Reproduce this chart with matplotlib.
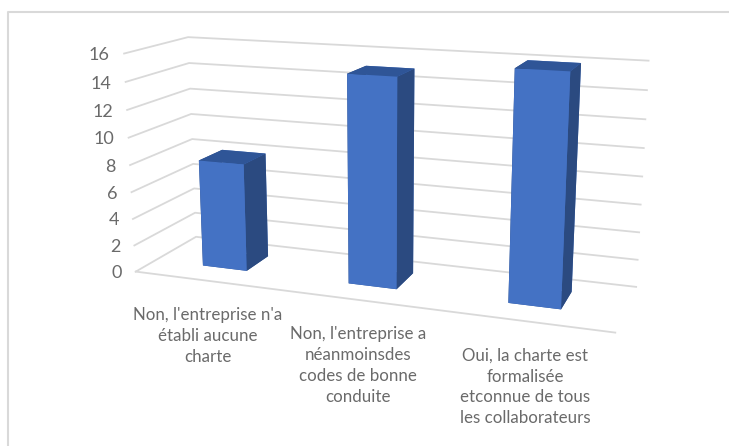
import matplotlib
matplotlib.use('Agg')
import matplotlib.pyplot as plt
from matplotlib.lines import Line2D
from mpl_toolkits.mplot3d import proj3d

#---Chart data
categories = ["Non, l'entreprise n'a\nétabli aucune\ncharte",
              "Non, l'entreprise a\nnéanmoinsdes\ncodes de bonne\nconduite",
              "Oui, la charte est\nformalisée\netconnue de tous\nles collaborateurs"]
values = [8, 15, 16]
zticks = [0, 2, 4, 6, 8, 10, 12, 14, 16]

W, H = 729, 446
grey = '#d9d9d9'
text_col = '#6a6a6a'
plt.rcParams['font.family'] = ['Lato', 'DejaVu Sans']

fig = plt.figure(figsize=(W/100, H/100), dpi=100)
ax = fig.add_axes([100.6/W, -5.2/H, 546.3/W, 546.3/H], projection='3d', computed_zorder=False)
ax.view_init(elev=14.06, azim=-70.04, roll=0.02)
ax.set_proj_type('persp', focal_length=0.401)
ax.set_box_aspect((2.174, 0.568, 1))
ax.set_xlim(0, 3)
ax.set_ylim(0, 1)
ax.set_zlim(0, 16)
ax.set_axis_off()

#---Walls
proj = ax.get_proj()
for z in zticks:
    ax.plot([0, 0, 3], [0, 1, 1], [z, z, z], color=grey, lw=1.3, clip_on=False, zorder=1)
    tx, ty, _ = proj3d.proj_transform(-0.1, 0, z, proj)
    ax.annotate(str(z), (tx, ty), xytext=(0, -2), textcoords='offset points',
                ha='right', va='center', fontsize=13, color=text_col, annotation_clip=False)
ax.plot([0, 3], [0, 0], [0, 0], color=grey, lw=1.3, clip_on=False, zorder=1)

#---Bars, faces are -z +z -y +y -x +x
faces = ['#2F5597', '#2F5597', '#4472C4', '#4472C4', '#2B4A80', '#2B4A80']
for i, v in enumerate(values):
    ax.bar3d(i + 0.34, 0.32, 0, 0.31, 0.4, v, color=faces, shade=False, zorder=2)

#---Category labels
label_x = [208, 358, 525]
label_y = [336, 365.5, 387]
for name, x, y in zip(categories, label_x, label_y):
    fig.text(x/W, 1 - y/H, name, ha='center', va='center', fontsize=12.2,
             color=text_col, linespacing=1.36)

#---Frame
fig.add_artist(Line2D([8/W, 8/W, 1], [0, 1 - 12/H, 1 - 12/H], color=grey, lw=1.5))

fig.savefig('out.png', dpi=100)
